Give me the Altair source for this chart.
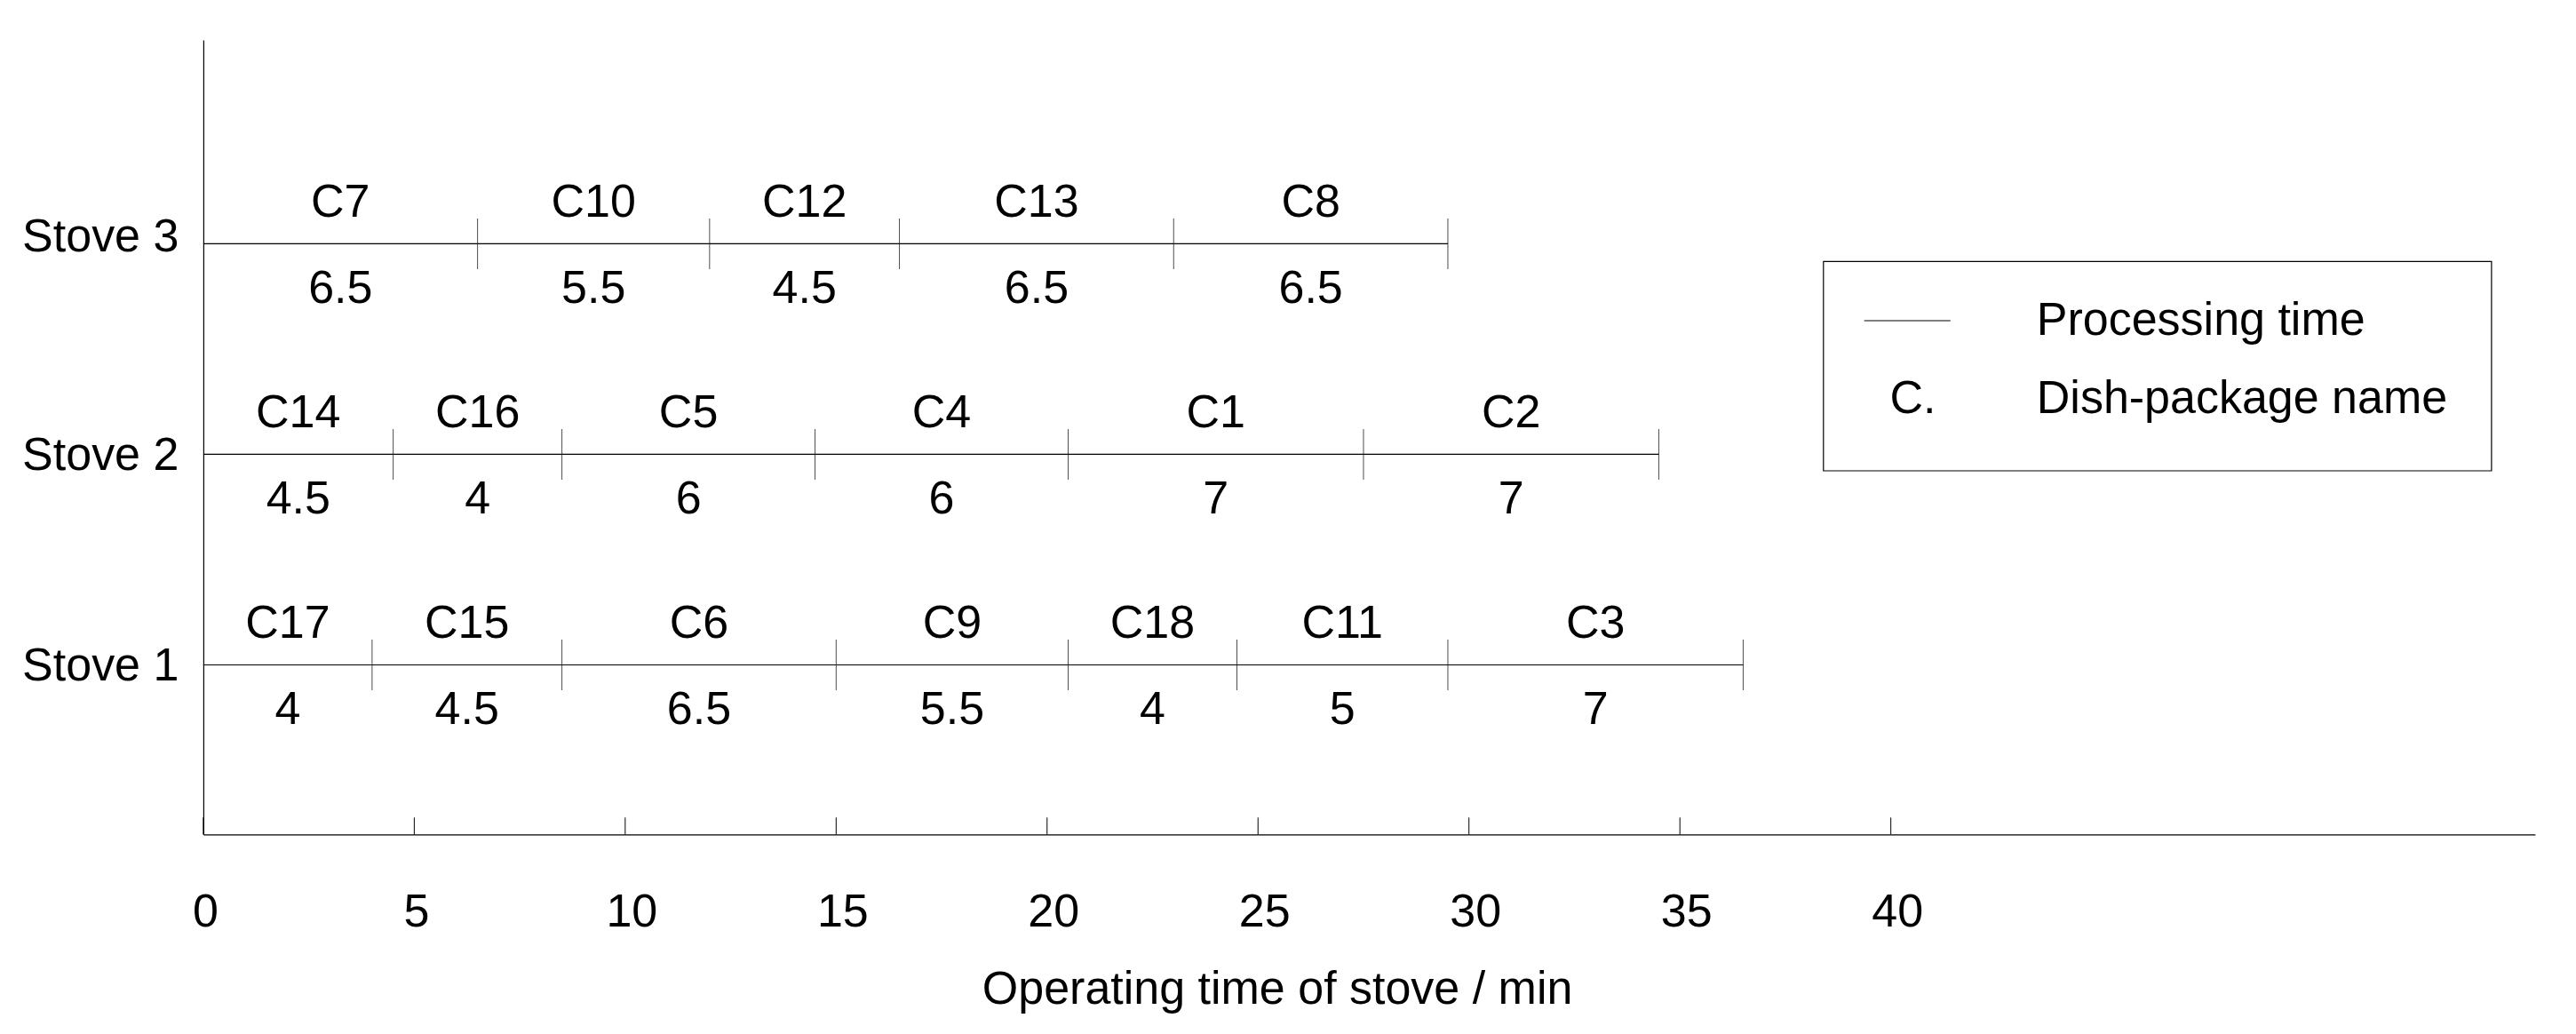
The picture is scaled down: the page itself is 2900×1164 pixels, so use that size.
import json
import altair as alt
import pandas as pd

# ---------------- data ----------------
stoves = ["Stove 1", "Stove 2", "Stove 3"]
stove_levels = [1, 2, 3]

stove1_names = ["C17", "C15", "C6", "C9", "C18", "C11", "C3"]
stove1_times = [4, 4.5, 6.5, 5.5, 4, 5, 7]
stove2_names = ["C14", "C16", "C5", "C4", "C1", "C2"]
stove2_times = [4.5, 4, 6, 6, 7, 7]
stove3_names = ["C7", "C10", "C12", "C13", "C8"]
stove3_times = [6.5, 5.5, 4.5, 6.5, 6.5]

x_ticks = [0, 5, 10, 15, 20, 25, 30, 35, 40]
x_title = "Operating time of stove / min"
legend_symbol = "C."
legend_items = ["Processing time", "Dish-package name"]

# ---------------- table ----------------
rows = []
for level, names, times in [(1, stove1_names, stove1_times),
                            (2, stove2_names, stove2_times),
                            (3, stove3_names, stove3_times)]:
    t = 0.0
    for n, d in zip(names, times):
        rows.append({
            "level": level, "name": n, "time": d,
            "start": t, "end": t + d, "mid": t + d / 2,
            "label": ("%g" % d),
        })
        t += d
df = pd.DataFrame(rows)
ticks_df = pd.DataFrame({"tick": x_ticks})
one = pd.DataFrame({"item": [legend_items[0]]})

# ---------------- layout ----------------
FONT = "Liberation Sans"
FS = 52
W = 2625
H = 894.3
X_DOMAIN = [0, 55.27]
Y_DOMAIN = [0.195, 3.968]

label_expr = "%s[datum.value - 1]" % json.dumps(stoves)

xscale = alt.Scale(domain=X_DOMAIN, nice=False, zero=False)
yscale = alt.Scale(domain=Y_DOMAIN, nice=False, zero=False)

x_axis = alt.Axis(
    values=x_ticks, title=x_title, ticks=False, tickSize=0, grid=False,
    labelFontSize=FS, labelFont=FONT, labelColor="black",
    labelBaseline="alphabetic", labelPadding=103.7, labelFlush=False,
    labelOffset={"condition": {"test": "datum.value < 10", "value": 2}, "value": 7},
    labelOverlap=False,
    domainColor="black", domainWidth=1.2,
    titleFontSize=FS, titleFont=FONT, titleFontWeight="normal", titleColor="black",
    titleX=1208.7, titleY=190, titleAlign="center", titleBaseline="alphabetic",
)
y_axis = alt.Axis(
    values=stove_levels, labelExpr=label_expr, title=None, ticks=False, tickSize=0,
    grid=False, labelFontSize=FS, labelFont=FONT, labelColor="black",
    labelBaseline="alphabetic", labelAlign="right", labelPadding=28,
    labelOffset={"condition": {"test": "datum.value == 3", "value": 8}, "value": 17.5},
    domainColor="black", domainWidth=1.2,
)

base = alt.Chart(df)

segments = base.mark_rule(color="black", strokeWidth=1.2).encode(
    x=alt.X("start:Q", scale=xscale, axis=x_axis),
    x2="end:Q",
    y=alt.Y("level:Q", scale=yscale, axis=y_axis),
)

separators = base.mark_tick(orient="vertical", size=57, thickness=1, color="black").encode(
    x=alt.X("end:Q"),
    y=alt.Y("level:Q"),
)

names = base.mark_text(fontSize=FS, font=FONT, color="black", baseline="alphabetic",
                       align="center", dy=-30.6).encode(
    x="mid:Q", y="level:Q", text="name:N"
)
values = base.mark_text(fontSize=FS, font=FONT, color="black", baseline="alphabetic",
                        align="center", dy=67).encode(
    x="mid:Q", y="level:Q", text="label:N"
)

axis_ticks = alt.Chart(ticks_df).mark_rule(color="black", strokeWidth=1).encode(
    x="tick:Q", y=alt.value(H - 19), y2=alt.value(H)
)

legend_box = alt.Chart(one).mark_rect(fill="white", stroke="black", strokeWidth=1.2).encode(
    x=alt.value(1823.9), x2=alt.value(2576), y=alt.value(249.3), y2=alt.value(485)
)
legend_line = alt.Chart(one).mark_rule(color="black", strokeWidth=1.2).encode(
    x=alt.value(1869.8), x2=alt.value(1966.9), y=alt.value(316)
)
legend_sym = alt.Chart(one).mark_text(fontSize=FS, font=FONT, color="black",
                                      align="left", baseline="alphabetic").encode(
    x=alt.value(1898.5), y=alt.value(420), text=alt.value(legend_symbol)
)
legend_t1 = alt.Chart(one).mark_text(fontSize=FS, font=FONT, color="black",
                                     align="left", baseline="alphabetic").encode(
    x=alt.value(2063.9), y=alt.value(332.3), text=alt.value(legend_items[0])
)
legend_t2 = alt.Chart(one).mark_text(fontSize=FS, font=FONT, color="black",
                                     align="left", baseline="alphabetic").encode(
    x=alt.value(2063.9), y=alt.value(420), text=alt.value(legend_items[1])
)

chart = alt.layer(
    segments, separators, names, values, axis_ticks,
    legend_box, legend_line, legend_sym, legend_t1, legend_t2,
).properties(
    width=W, height=H,
    autosize=alt.AutoSizeParams(type="none"),
    padding={"left": 220.9, "top": 37, "right": 38, "bottom": 216},
).configure(
    font=FONT, background="white"
).configure_view(strokeWidth=0)

chart.save("out.html", embed_options={"renderer": "svg", "actions": False})
